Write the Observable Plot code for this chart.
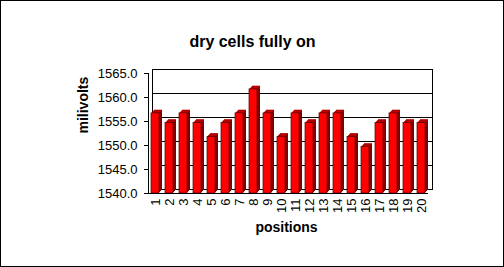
<!DOCTYPE html>
<html><head><meta charset="utf-8">
<script src="https://cdn.jsdelivr.net/npm/d3@7"></script>
<script src="https://cdn.jsdelivr.net/npm/@observablehq/plot@0.6"></script>
<style>
body{margin:0;background:#fff}
#chart svg{display:block;outline:1px solid #000;outline-offset:-1px}
</style></head><body><div id="chart"></div>
<script>
const title = "dry cells fully on";
const yLabel = "milivolts";
const xLabel = "positions";
const positions = ["1","2","3","4","5","6","7","8","9","10","11","12","13","14","15","16","17","18","19","20"];
const millivolts = [1556.7,1554.7,1556.7,1554.7,1551.8,1554.7,1556.7,1561.7,1556.7,1551.8,1556.7,1554.7,1556.7,1556.7,1551.8,1549.7,1554.7,1556.7,1554.7,1554.7];
const yTicks = [1540,1545,1550,1555,1560,1565];
const gridValues = [1545,1550,1555,1560];

const data = positions.map((p, i) => ({pos: p, mv: millivolts[i]}));
const depth = [1, 2, 3];
const sideLayers = depth.map(k => Plot.barY(data, {x: "pos", y1: 1540, y2: "mv", fill: "#800000", dx: k, dy: -k}));
const topLayers = depth.map(k => Plot.tickY(data, {x: "pos", y: "mv", stroke: "#c00000", dx: k, dy: -k}));

const chart = Plot.plot({
  width: 504,
  height: 267,
  marginLeft: 148,
  marginRight: 76,
  marginTop: 73,
  marginBottom: 74,
  style: {fontFamily: "Arial, 'Liberation Sans', sans-serif", fontSize: "12px", color: "#000", background: "#fff"},
  x: {domain: positions, paddingInner: 0.43, paddingOuter: 0.1, label: null},
  y: {domain: [1540, 1565], label: null},
  marks: [
    Plot.frame({dx: 4, dy: -4, stroke: "#000"}),
    Plot.ruleY(gridValues, {dx: 4, dy: -4, stroke: "#000"}),
    ...sideLayers,
    ...topLayers,
    Plot.barY(data, {x: "pos", y1: 1540, y2: "mv", fill: "#ff0000", stroke: "#500000", strokeWidth: 0.7}),
    Plot.ruleY([1540], {stroke: "#000"}),
    Plot.frame({anchor: "left", stroke: "#000"}),
    Plot.axisY({ticks: yTicks, tickFormat: d3.format(".1f"), tickSize: 4, tickPadding: 7, fontSize: 13, label: null}),
    Plot.axisX({tickRotate: -90, tickSize: 0, tickPadding: 5, fontSize: 13, label: null}),
    Plot.text([title], {frameAnchor: "top", dx: -36, dy: -38, fontSize: 16, fontWeight: "bold"}),
    Plot.text([yLabel], {frameAnchor: "left", dx: -65, rotate: -90, fontSize: 14, fontWeight: "bold"}),
    Plot.text([xLabel], {frameAnchor: "bottom", dx: -2, dy: 38, fontSize: 14, fontWeight: "bold"})
  ]
});
document.getElementById("chart").append(chart);
</script></body></html>
